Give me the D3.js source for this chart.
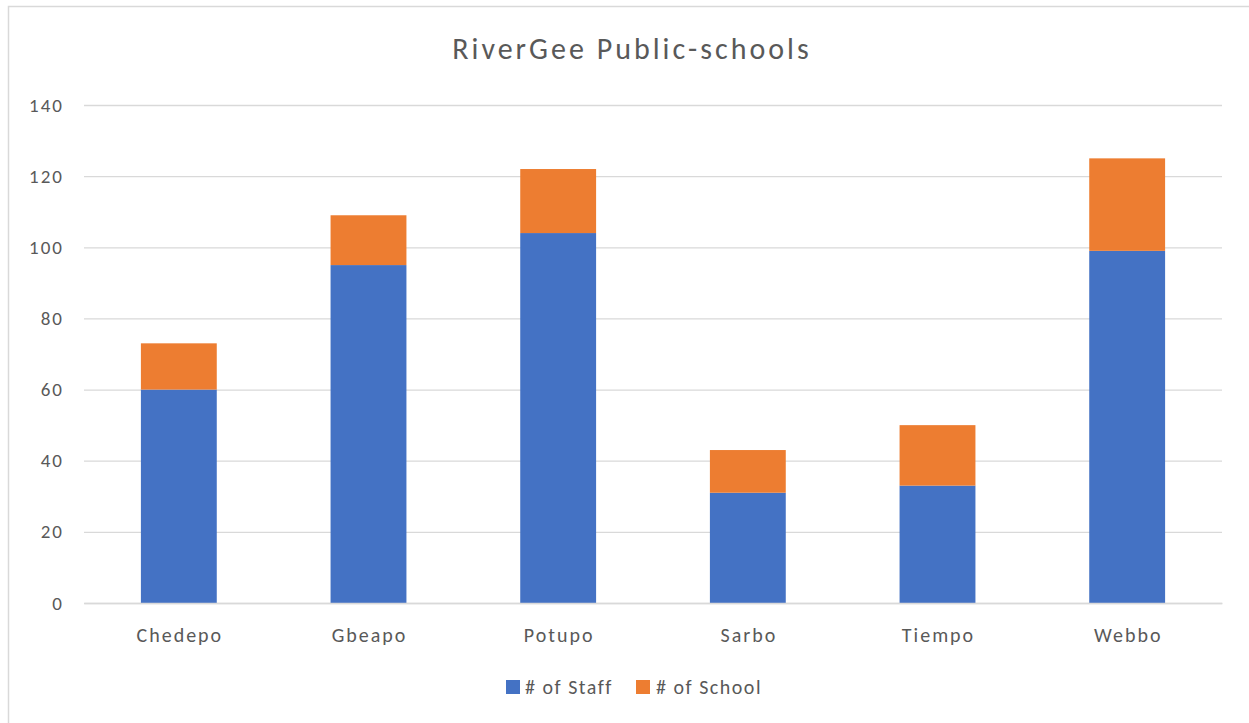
<!DOCTYPE html>
<html><head><meta charset="utf-8">
<script src="https://cdn.jsdelivr.net/npm/d3@7"></script>
<style>body{margin:0;background:#fff;}svg{display:block;font-family:Carlito,"Open Sans","Noto Sans",sans-serif;}</style>
</head><body>
<svg id="c" width="1249" height="723"></svg>
<script>
const categories = ["Chedepo","Gbeapo","Potupo","Sarbo","Tiempo","Webbo"];
const staff = [60,95,104,31,33,99];
const school = [13,14,18,12,17,26];
const seriesNames = ["# of Staff","# of School"];
const colors = ["#4472C4","#ED7D31"];
const yTicks = [0,20,40,60,80,100,120,140];

const svg = d3.select("#c");
svg.append("rect").attr("x",8.5).attr("y",6.5).attr("width",1260).attr("height",730)
  .attr("fill","#fff").attr("stroke","#d9d9d9").attr("stroke-width",1.5);

const m = {l:84, r:1222, t:105, b:603};
const x = d3.scaleBand().domain(categories).range([m.l,m.r]).paddingInner(0.6).paddingOuter(0.3);
const y = d3.scaleLinear().domain([0,140]).range([m.b,m.t]);

const ya = svg.append("g").attr("transform",`translate(${m.l},0)`)
  .call(d3.axisLeft(y).tickValues(yTicks).tickSize(-(m.r-m.l)).tickPadding(20));
ya.attr("font-family",null).attr("font-size",null);
ya.select(".domain").remove();
ya.selectAll(".tick line").attr("stroke","#d9d9d9").attr("stroke-width",1.3);
ya.selectAll(".tick text").attr("fill","#595959").style("font-size","19px").style("letter-spacing","2px");

const data = categories.map((c,i)=>({cat:c, "# of Staff":staff[i], "# of School":school[i]}));
const stacked = d3.stack().keys(seriesNames)(data);
svg.append("g").selectAll("g").data(stacked).join("g").attr("fill",(d,i)=>colors[i])
  .selectAll("rect").data(d=>d).join("rect")
  .attr("x",d=>x(d.data.cat)).attr("width",x.bandwidth())
  .attr("y",d=>y(d[1])).attr("height",d=>y(d[0])-y(d[1]));

const xa = svg.append("g").attr("transform",`translate(0,${m.b})`)
  .call(d3.axisBottom(x).tickSize(0));
xa.attr("font-family",null).attr("font-size",null);
xa.select(".domain").attr("stroke","#d9d9d9").attr("stroke-width",1.3);
xa.selectAll(".tick text").attr("fill","#595959").attr("y",39).attr("dy",null).attr("dx",1)
  .style("font-size","20px").style("letter-spacing","2px");

svg.append("text").attr("x",632).attr("y",59).attr("text-anchor","middle")
  .attr("fill","#595959").style("font-size","30px").style("letter-spacing","3px").text("RiverGee Public-schools");

const leg = [{x:506,tx:525},{x:636,tx:656}];
seriesNames.forEach((s,i)=>{
  svg.append("rect").attr("x",leg[i].x).attr("y",680).attr("width",14).attr("height",14).attr("fill",colors[i]);
  svg.append("text").attr("x",leg[i].tx).attr("y",694).attr("fill","#595959").style("font-size","20px").style("letter-spacing","1.5px").text(s);
});
</script>
</body></html>
